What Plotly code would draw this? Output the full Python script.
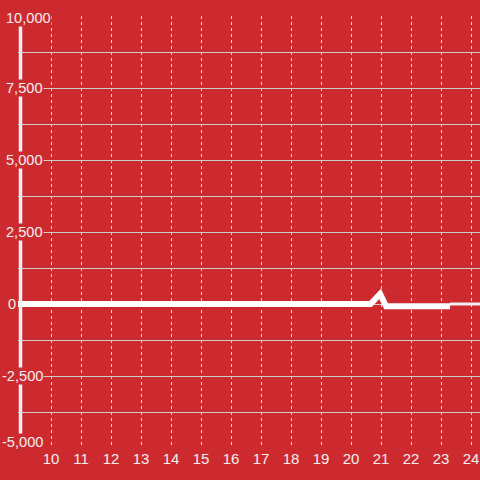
import plotly.graph_objects as go

# Data
main_x = [8.0, 20.65, 20.97, 21.17, 23.3]
main_y = [0, 0, 350, -80, -80]
tail_x = [23.3, 24.6]
tail_y = [0, 0]
x_ticks = list(range(10, 25))
y_label_vals = [-5000, -2500, 0, 2500, 5000, 7500, 10000]
y_label_text = ["-5,000", "-2,500", "0", "2,500", "5,000", "7,500", "10,000"]

RED = "#cd2a30"
TXT = "#f2eeee"
L, R, T, B = 18, 0, 16, 32
W = H = 480
pw = W - L - R

fig = go.Figure()
fig.add_trace(go.Scatter(x=main_x, y=main_y, mode="lines",
                         line=dict(color="#ffffff", width=6), hoverinfo="skip"))
fig.add_trace(go.Scatter(x=tail_x, y=tail_y, mode="lines",
                         line=dict(color="#eeeeee", width=3), hoverinfo="skip"))

# white vertical bar
bx = (20.5 - L) / pw
fig.add_shape(type="line", xref="paper", yref="paper", x0=bx, x1=bx, y0=0, y1=1,
              line=dict(color="#f0f0f0", width=3.5), layer="above")

# y labels as annotations with background
right_px = {-5000: 44, -2500: 44, 0: 17, 2500: 44, 5000: 44, 7500: 44, 10000: 52}
shift_px = {-5000: 6, 10000: -1.5}
for v, t in zip(y_label_vals, y_label_text):
    fig.add_annotation(x=(right_px[v] - L) / pw, xref="paper", y=v, yref="y",
                       yshift=shift_px.get(v, 0),
                       text=t, showarrow=False, xanchor="right", yanchor="middle",
                       font=dict(family="Liberation Sans, Arial", size=14.6, color=TXT),
                       bgcolor=RED, borderpad=0)

fig.update_layout(
    width=W, height=H, margin=dict(l=L, r=R, t=T, b=B),
    paper_bgcolor=RED, plot_bgcolor=RED, showlegend=False,
    xaxis=dict(range=[10 - (51 - L) / 30, 24 + (480 - 471) / 30],
               tickvals=x_ticks, ticktext=[str(v) for v in x_ticks],
               showgrid=True, gridcolor="#dddddd", gridwidth=1, griddash="3px,3px",
               zeroline=False, showline=False, ticks="",
               tickfont=dict(family="Liberation Sans, Arial", size=15, color=TXT)),
    yaxis=dict(range=[-5000, 10000], dtick=1250, tick0=0,
               showgrid=True, gridcolor="#cccccc", gridwidth=1,
               zeroline=False, showline=False, showticklabels=False, ticks=""),
)
fig.write_html("out.html", config={"displayModeBar": False},
               post_script="document.body.style.margin='0';document.body.style.overflow='hidden';document.body.style.background='%s';" % RED)
